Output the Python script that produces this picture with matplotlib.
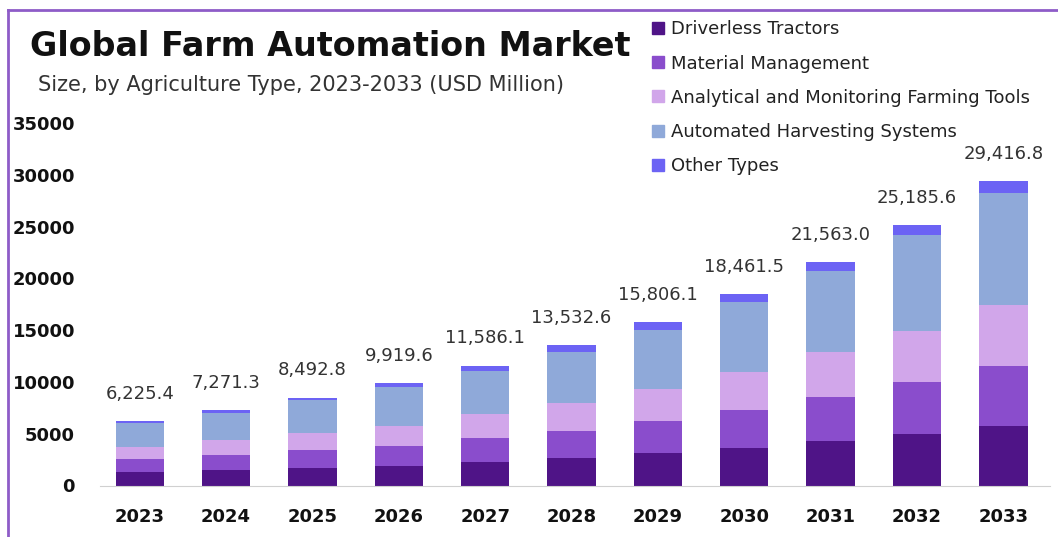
import numpy as np
import matplotlib.pyplot as plt
import matplotlib.patches as mpatches
from matplotlib.lines import Line2D

years = ['2023', '2024', '2025', '2026', '2027', '2028', '2029', '2030', '2031', '2032', '2033']
driverless = [1290, 1480, 1710, 1930, 2250, 2640, 3120, 3640, 4250, 4990, 5790]
material = [1230, 1420, 1670, 1930, 2320, 2670, 3090, 3670, 4250, 4960, 5790]
analytical = [1160, 1450, 1710, 1930, 2290, 2700, 3120, 3670, 4380, 4960, 5860]
harvesting = [2390, 2670, 3120, 3700, 4150, 4860, 5700, 6690, 7790, 9240, 10780]
other = [155, 251, 283, 430, 576, 663, 776, 792, 893, 1036, 1197]
totals = [6225.4, 7271.3, 8492.8, 9919.6, 11586.1, 13532.6, 15806.1, 18461.5, 21563.0, 25185.6, 29416.8]

names = ['Driverless Tractors', 'Material Management', 'Analytical and Monitoring Farming Tools',
         'Automated Harvesting Systems', 'Other Types']
colors = ['#4f1487', '#8a4dcc', '#d1a6ea', '#8fa9d9', '#6c63f4']

fig = plt.figure(figsize=(10.58, 5.37), dpi=100)
ax = fig.add_axes([100 / 1058, 1 - 485.5 / 537, 950 / 1058, (485.5 - 123) / 537])

x = np.arange(len(years))
bottom = np.zeros(len(years))
for vals, c in zip([driverless, material, analytical, harvesting, other], colors):
    ax.bar(x, vals, width=0.56, bottom=bottom, color=c, zorder=2)
    bottom += np.array(vals)

for xi, t, top in zip(x, totals, bottom):
    ax.annotate(f'{t:,.1f}', (xi, top), xytext=(0, 13), textcoords='offset points',
                ha='center', va='bottom', fontsize=13, color='#333333')

ax.set_xlim(-0.46, 10.54)
ax.set_ylim(0, 35000)
ax.set_yticks(range(0, 35001, 5000))
ax.set_xticks(x)
ax.set_xticklabels(years)
ax.tick_params(length=0)
ax.tick_params(axis='y', pad=18, labelsize=13)
ax.tick_params(axis='x', pad=16, labelsize=13)
for lab in ax.get_xticklabels() + ax.get_yticklabels():
    lab.set_fontweight('bold')
    lab.set_color('#111111')
for s in ['top', 'right', 'left']:
    ax.spines[s].set_visible(False)
ax.spines['bottom'].set_color('#d0d0d0')

handles = [mpatches.Patch(color=c, label=n) for n, c in zip(names, colors)]
fig.legend(handles=handles, loc='upper left', bbox_to_anchor=(636 / 1058, 1 - 4 / 537),
           frameon=False, fontsize=13, handlelength=0.65, handleheight=0.65,
           handletextpad=0.4, labelspacing=0.9, labelcolor='#222222')

fig.text(30 / 1058, 1 - 47 / 537, 'Global Farm Automation Market', fontsize=24,
         fontweight='bold', va='center', ha='left', color='#111111')
fig.text(38 / 1058, 1 - 85 / 537, 'Size, by Agriculture Type, 2023-2033 (USD Million)',
         fontsize=15, va='center', ha='left', color='#333333')

fig.add_artist(Line2D([8 / 1058, 1], [1 - 10 / 537] * 2, transform=fig.transFigure,
                      color='#8e5cc8', lw=2))
fig.add_artist(Line2D([8 / 1058] * 2, [0, 1 - 10 / 537], transform=fig.transFigure,
                      color='#8e5cc8', lw=2))

fig.savefig('out.png', dpi=100)
